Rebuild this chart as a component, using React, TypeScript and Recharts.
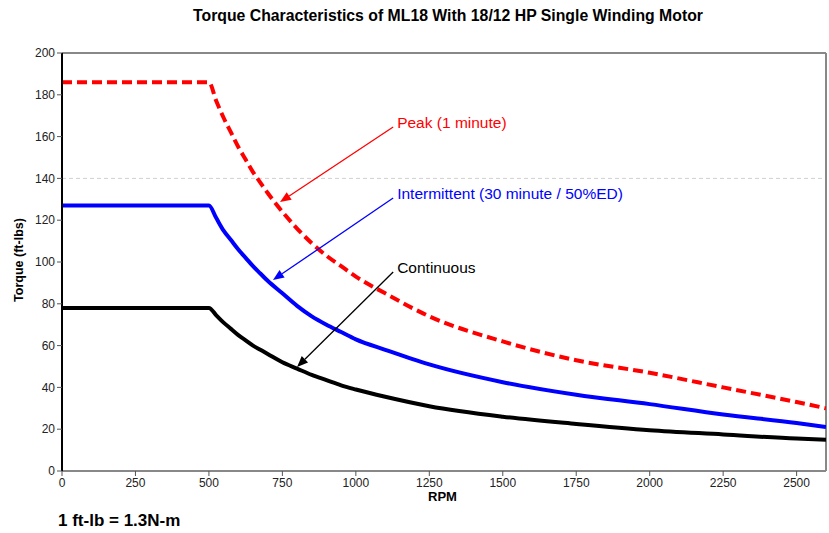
import React from "react";
import { LineChart, Line, XAxis, YAxis, ReferenceLine } from "recharts";

const rpm = [0, 500, 525, 550, 575, 600, 625, 650, 675, 700, 750, 800, 850, 900, 950, 1000, 1100, 1250, 1500, 1750, 2000, 2250, 2500, 2600];
const peak = [186, 186, 177, 169, 162, 155, 149, 143, 138, 133, 124, 116, 109, 103, 98, 93, 85, 74, 62, 53, 47, 40, 33, 30];
const intermittent = [127, 127, 121, 115, 110.5, 106, 102, 98, 94.5, 91, 85, 79, 74, 70, 66.5, 63, 58, 51, 42.5, 36.5, 32, 27, 23, 21];
const continuous = [78, 78, 74.5, 71, 68, 65, 62.5, 60, 58, 56, 52, 49, 46, 43.5, 41, 39, 35.5, 31, 26, 22.5, 19.5, 17.5, 15.5, 15];

const xTicks = [0, 250, 500, 750, 1000, 1250, 1500, 1750, 2000, 2250, 2500];
const yTicks = [0, 20, 40, 60, 80, 100, 120, 140, 160, 180, 200];

const callouts = [
  { text: "Peak (1 minute)", color: "#ff0000", from: { x: 1127, y: 164.6 }, to: { x: 742, y: 128.7 } },
  { text: "Intermittent (30 minute / 50%ED)", color: "#0000ff", from: { x: 1127, y: 130.6 }, to: { x: 718, y: 91.4 } },
  { text: "Continuous", color: "#000000", from: { x: 1127, y: 95.2 }, to: { x: 800, y: 49.8 } },
];

const data = rpm.map((r, i) => ({
  rpm: r,
  peak: peak[i],
  intermittent: intermittent[i],
  continuous: continuous[i],
}));

const FONT = "'Liberation Sans', Arial, sans-serif";

const arrowShape = (text: string, color: string) => (props: any) => {
  const { x1, y1, x2, y2 } = props;
  const ang = Math.atan2(y2 - y1, x2 - x1);
  const len = 11;
  const hw = 4.5;
  const bx = x2 - len * Math.cos(ang);
  const by = y2 - len * Math.sin(ang);
  const px = -Math.sin(ang) * hw;
  const py = Math.cos(ang) * hw;
  return (
    <g>
      <line x1={x1} y1={y1} x2={bx} y2={by} stroke={color} strokeWidth={1.3} />
      <polygon points={`${x2},${y2} ${bx + px},${by + py} ${bx - px},${by - py}`} fill={color} />
      <text x={x1 + 4} y={y1 - 3} fill={color} fontSize={15.5} fontFamily={FONT} dominantBaseline="middle">
        {text}
      </text>
    </g>
  );
};

const tickStyle = { fontSize: 12, fill: "#222", fontFamily: FONT };

export default function App() {
  return (
    <div style={{ position: "absolute", left: 0, top: 0, width: 829, height: 533, background: "#fff", fontFamily: FONT }}>
      <div style={{ position: "absolute", left: 193, top: 7, fontSize: 15.8, fontWeight: "bold", color: "#000", whiteSpace: "nowrap" }}>
        Torque Characteristics of ML18 With 18/12 HP Single Winding Motor
      </div>
      <div style={{ position: "absolute", left: 19, top: 260, transform: "translate(-50%, -50%) rotate(-90deg)", fontSize: 12.5, fontWeight: "bold", whiteSpace: "nowrap" }}>
        Torque (ft-lbs)
      </div>
      <div style={{ position: "absolute", left: 428, top: 489, fontSize: 13, fontWeight: "bold" }}>RPM</div>
      <div style={{ position: "absolute", left: 58, top: 511, fontSize: 17, fontWeight: "bold" }}>1 ft-lb = 1.3N-m</div>
      <LineChart width={829} height={533} data={data} margin={{ top: 53, right: 3, bottom: 38, left: 0 }}>
        <XAxis
          dataKey="rpm"
          type="number"
          domain={[0, 2600]}
          ticks={xTicks}
          allowDataOverflow
          height={24}
          tick={tickStyle}
          tickSize={5}
          axisLine={{ stroke: "#888", strokeWidth: 2 }}
          tickLine={{ stroke: "#555" }}
        />
        <YAxis
          type="number"
          domain={[0, 200]}
          ticks={yTicks}
          width={62}
          tick={tickStyle}
          tickSize={5}
          axisLine={{ stroke: "#000", strokeWidth: 2 }}
          tickLine={{ stroke: "#555" }}
        />
        <ReferenceLine y={140} stroke="#d0d0d0" strokeDasharray="4 3" />
        <ReferenceLine y={200} stroke="#888" strokeWidth={2} />
        <ReferenceLine x={2600} stroke="#888" strokeWidth={2} />
        <Line type="monotone" dataKey="continuous" stroke="#000" strokeWidth={4} dot={false} isAnimationActive={false} />
        <Line type="monotone" dataKey="intermittent" stroke="#0000ff" strokeWidth={4} dot={false} isAnimationActive={false} />
        <Line type="monotone" dataKey="peak" stroke="#ff0000" strokeWidth={4} strokeDasharray="10 5" dot={false} isAnimationActive={false} />
        {callouts.map((c) => (
          <ReferenceLine key={c.text} segment={[c.from, c.to]} shape={arrowShape(c.text, c.color)} />
        ))}
      </LineChart>
    </div>
  );
}
